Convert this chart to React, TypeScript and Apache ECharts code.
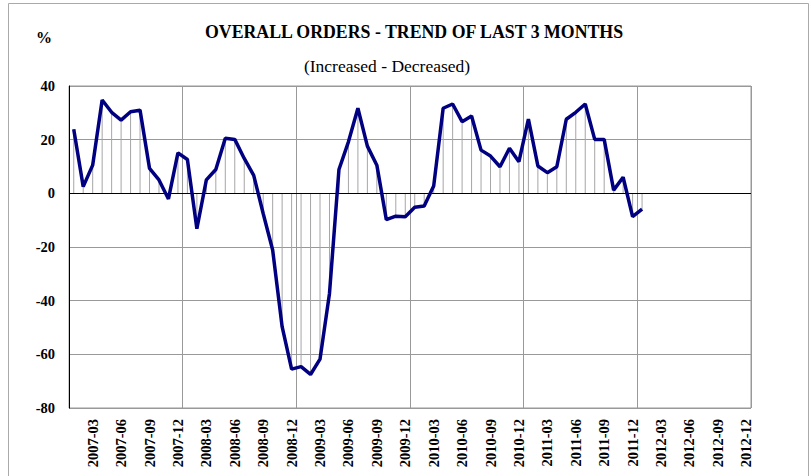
import React, { useEffect, useRef } from "react";
import * as echarts from "echarts";

const years = ["2007", "2008", "2009", "2010", "2011", "2012"];
const months = ["01", "02", "03", "04", "05", "06", "07", "08", "09", "10", "11", "12"];
const categories: string[] = [];
years.forEach((y) => months.forEach((m) => categories.push(`${y}-${m}`)));

// 2007-01 .. 2012-01
const values = [
  23.9, 2.5, 10.5, 34.8, 30.2, 27.3, 30.4, 31.0, 9.3, 5.0, -2.1, 15.1,
  12.6, -13.2, 5.0, 8.9, 20.5, 20.1, 13.0, 6.7, -7.5, -21.1, -49.7, -65.5,
  -64.6, -67.5, -61.8, -37.3, 8.9, 19.2, 31.7, 17.6, 10.5, -9.8, -8.5, -8.7,
  -5.2, -4.7, 2.7, 31.7, 33.3, 26.7, 28.8, 16.1, 13.9, 9.9, 16.8, 11.8,
  27.7, 10.2, 7.7, 9.9, 27.6, 30.2, 33.3, 20.1, 20.1, 1.2, 6.0, -8.7,
  -5.9,
];

const yTicks = { min: -80, max: 40, interval: 20 };
const FONT = "'Liberation Serif', 'Times New Roman', serif";

export default function App() {
  const ref = useRef<HTMLDivElement>(null);
  useEffect(() => {
    if (!ref.current) return;
    const chart = echarts.init(ref.current, undefined, { renderer: "svg" });
    chart.setOption({
      animation: false,
      backgroundColor: "#fff",
      grid: {
        left: 69,
        right: 60,
        top: 86,
        bottom: 68,
        show: true,
        borderColor: "#999",
        borderWidth: 1,
      },
      graphic: [
        {
          type: "rect",
          shape: { x: 8.5, y: 3.5, width: 800, height: 480 },
          style: { fill: "none", stroke: "#aaa", lineWidth: 1 },
          z: 100,
        },
        {
          type: "text",
          x: 414,
          y: 32,
          style: {
            text: "OVERALL ORDERS - TREND OF LAST 3 MONTHS",
            font: `bold 17.8px ${FONT}`,
            fill: "#000",
            align: "center",
            verticalAlign: "middle",
          },
        },
        {
          type: "text",
          x: 387,
          y: 66,
          style: {
            text: "(Increased - Decreased)",
            font: `17.5px ${FONT}`,
            fill: "#000",
            align: "center",
            verticalAlign: "middle",
          },
        },
        {
          type: "text",
          x: 44,
          y: 37,
          style: {
            text: "%",
            font: `bold 16px ${FONT}`,
            fill: "#000",
            align: "center",
            verticalAlign: "middle",
          },
        },
      ],
      xAxis: {
        type: "category",
        data: categories,
        boundaryGap: true,
        axisLine: { show: false },
        axisTick: { show: false },
        splitLine: {
          show: true,
          interval: (i: number) => i % 12 === 0 && i > 0,
          lineStyle: { color: "#999", width: 1 },
        },
        axisLabel: {
          interval: (i: number) => i % 3 === 2,
          rotate: 90,
          margin: 11,
          fontFamily: FONT,
          fontWeight: "bold",
          fontSize: 14.5,
          color: "#000",
        },
      },
      yAxis: {
        type: "value",
        min: yTicks.min,
        max: yTicks.max,
        interval: yTicks.interval,
        axisLine: { show: true, lineStyle: { color: "#000", width: 1 } },
        axisTick: { show: false },
        splitLine: { show: true, lineStyle: { color: "#999", width: 1 } },
        axisLabel: {
          margin: 14,
          fontFamily: FONT,
          fontWeight: "bold",
          fontSize: 14.5,
          color: "#000",
        },
      },
      series: [
        {
          type: "bar",
          data: values,
          barWidth: 1,
          itemStyle: { color: "#a6a6a6" },
          silent: true,
          z: 1,
        },
        {
          type: "line",
          data: values,
          symbol: "none",
          lineStyle: { color: "#000080", width: 3.5 },
          z: 3,
          markLine: {
            silent: true,
            symbol: "none",
            label: { show: false },
            lineStyle: { color: "#000", width: 1, type: "solid" },
            data: [{ yAxis: 0 }],
            z: 2,
          },
        },
      ],
    });
    return () => chart.dispose();
  }, []);
  return (
    <div
      ref={ref}
      style={{ position: "absolute", left: 0, top: 0, width: 811, height: 476 }}
    />
  );
}
